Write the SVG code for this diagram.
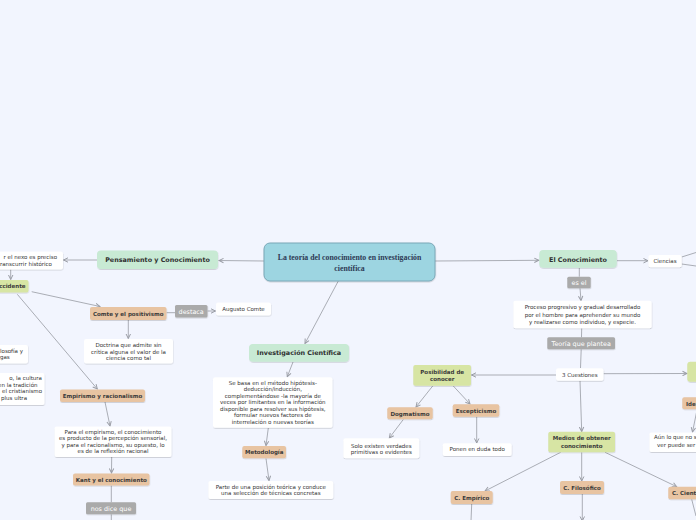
<svg xmlns="http://www.w3.org/2000/svg" width="696" height="520" viewBox="0 0 696 520">
<style>
.bg{fill:#f2f5fe}
.sh{filter:url(#shadow)}
.white{fill:#ffffff}
.green{fill:#c8ead4}
.lime{fill:#d7e5a4}
.tan{fill:#e8c4a2}
.gray{fill:#aaaaaa}
.central{fill:#9dd5e1;stroke:#7aa8b8;stroke-width:1}
text{font-family:"DejaVu Sans","Liberation Sans",sans-serif;fill:#333333}
.t{font-size:5.5px}
.tb{font-size:5.5px;font-weight:bold;fill:#3a3a3a}
.tm{font-size:6.4px;font-weight:bold;fill:#2f2f2f}
.tg{font-size:6.4px;fill:#ffffff}
.tc{font-family:"Liberation Serif","DejaVu Serif",serif;font-size:7.8px;font-weight:bold;fill:#2e3a55}
.c{text-anchor:middle}
.e{text-anchor:end}
.ln{fill:none;stroke:#a2a5ad;stroke-width:0.9}
.ar{marker-end:url(#arr)}
</style>
<defs>
<filter id="shadow" x="-20%" y="-30%" width="140%" height="170%">
<feDropShadow dx="0.3" dy="0.8" stdDeviation="0.5" flood-color="#000" flood-opacity="0.18"/>
</filter>
<marker id="arr" viewBox="0 0 6 6" markerWidth="6" markerHeight="6" refX="5" refY="3" orient="auto" markerUnits="userSpaceOnUse">
<path d="M0.5,0.8 L5,3 L0.5,5.2" fill="none" stroke="#9a9da5" stroke-width="1"/>
</marker>
</defs>
<rect class="bg" x="0" y="0" width="696" height="520"/>

<g id="connectors">
<path class="ln ar" d="M264,261 L219,260.5"/>
<path class="ln ar" d="M97,260 L63.5,260"/>
<path class="ln ar" d="M10.7,269.5 L10.7,279.5"/>
<path class="ln ar" d="M31.7,291.7 L100,306.5"/>
<path class="ln ar" d="M17.3,294.3 L97.3,389"/>
<path class="ln" d="M166.5,312.7 L175,312.7"/>
<path class="ln ar" d="M207.5,311 L215.5,311"/>
<path class="ln ar" d="M128.3,320 L128.3,338.5"/>
<path class="ln ar" d="M105,402 L110,426"/>
<path class="ln ar" d="M111.7,457 L111.5,473"/>
<path class="ln" d="M111.3,485.5 L111.3,502.3"/>
<path class="ln" d="M111.3,514.3 L111.3,521"/>
<path class="ln ar" d="M338.3,281 L305,343.5"/>
<path class="ln ar" d="M293,362 L287.3,376.7"/>
<path class="ln ar" d="M268.3,428 L266,445.5"/>
<path class="ln ar" d="M266,458.5 L269,480.5"/>
<path class="ln ar" d="M435,261 L538.8,260.3"/>
<path class="ln ar" d="M617,260.7 L648,260.7"/>
<path class="ln" d="M681.7,257 L696,252.5"/>
<path class="ln" d="M681.7,264 L696,266"/>
<path class="ln" d="M579.3,268 L579.3,276.7"/>
<path class="ln ar" d="M580,288.3 L581,300.5"/>
<path class="ln" d="M581.7,328.3 L581.5,337.3"/>
<path class="ln" d="M581.2,349.3 L580.5,368"/>
<path class="ln ar" d="M556,375 L471.5,375"/>
<path class="ln ar" d="M603.5,373.7 L687,373.5"/>
<path class="ln ar" d="M432.7,386 L416,407"/>
<path class="ln ar" d="M453.3,386 L470,404"/>
<path class="ln ar" d="M403.3,419.5 L389.3,438"/>
<path class="ln ar" d="M476.7,416.7 L476.7,443"/>
<path class="ln ar" d="M580,380.7 L581.7,431.5"/>
<path class="ln ar" d="M560.7,452.3 L485,491"/>
<path class="ln ar" d="M581.7,452.3 L581.7,481"/>
<path class="ln ar" d="M605,452.3 L676.7,486.7"/>
<path class="ln" d="M471.7,504 L471,521"/>
<path class="ln ar" d="M582.3,494 L582.3,521"/>
<path class="ln" d="M691.7,499.3 L696,516"/>
<path class="ln ar" d="M697,410 L692.5,432"/>
</g>

<g id="n-central">
<rect class="central sh" x="264" y="243" width="171" height="38" rx="6"/>
<text class="tc c" x="349.5" y="259.5">La teoría del conocimiento en investigación</text>
<text class="tc c" x="349.5" y="271">científica</text>
</g>

<g id="n-pensamiento">
<rect class="green sh" x="97" y="250.5" width="121" height="18.5" rx="4"/>
<text class="tm c" x="157.5" y="262">Pensamiento y Conocimiento</text>
</g>

<g id="n-nexo">
<rect class="white sh" x="-5" y="251.5" width="68" height="18" rx="2"/>
<text class="t e" x="57" y="259.3">r el nexo  es preciso</text>
<text class="t e" x="52" y="266.3">transcurrir histórico</text>
</g>

<g id="n-occidente">
<rect class="lime sh" x="-10" y="280" width="38.5" height="12.5" rx="2"/>
<text class="tb e" x="25.5" y="288.3">Occidente</text>
</g>

<g id="n-comte">
<rect class="tan sh" x="90" y="307" width="76.5" height="13" rx="2"/>
<text class="tb c" x="128.3" y="315.5">Comte y el positivismo</text>
</g>

<g id="n-destaca">
<rect class="gray sh" x="175" y="305" width="32.5" height="12.5" rx="1.5"/>
<text class="tg c" x="191.2" y="313.5">destaca</text>
</g>

<g id="n-augusto">
<rect class="white sh" x="216" y="302.5" width="55" height="13" rx="2"/>
<text class="t c" x="243.5" y="311.3">Augusto Comte</text>
</g>

<g id="n-doctrina">
<rect class="white sh" x="84" y="339" width="89" height="24.5" rx="2"/>
<text class="t c" x="128.5" y="347">Doctrina que admite sin</text>
<text class="t c" x="128.5" y="353.7">crítica alguna el valor de la</text>
<text class="t c" x="128.5" y="360.3">ciencia como tal</text>
</g>

<g id="n-filosofia">
<rect class="white sh" x="-5" y="345" width="33" height="18.5" rx="2"/>
<text class="t" x="0" y="353">losofía y</text>
<text class="t" x="0" y="359.3">gas</text>
</g>

<g id="n-cultura">
<rect class="white sh" x="-5" y="373" width="49.5" height="32" rx="2"/>
<text class="t e" x="42" y="380">o, la cultura</text>
<text class="t e" x="37.5" y="386.7">en la tradición</text>
<text class="t e" x="42" y="393.3">el cristianismo</text>
<text class="t e" x="27" y="400">plus ultra</text>
</g>

<g id="n-empirismo">
<rect class="tan sh" x="60" y="389.5" width="85" height="12.5" rx="2"/>
<text class="tb c" x="102.5" y="397.8">Empirismo y racionalismo</text>
</g>

<g id="n-para">
<rect class="white sh" x="54.5" y="426.5" width="117" height="30.5" rx="2"/>
<text class="t c" x="113" y="434.3">Para el empirismo, el conocimiento</text>
<text class="t c" x="113" y="440.4">es producto de la percepción sensorial,</text>
<text class="t c" x="113" y="446.5">y para el racionalismo, su opuesto, lo</text>
<text class="t c" x="113" y="452.6">es de la reflexión racional</text>
</g>

<g id="n-kant">
<rect class="tan sh" x="73" y="473.5" width="76.5" height="12" rx="2"/>
<text class="tb c" x="111.3" y="481.6">Kant y el conocimiento</text>
</g>

<g id="n-nosdice">
<rect class="gray sh" x="86" y="502.3" width="50" height="12" rx="1.5"/>
<text class="tg c" x="111" y="510.5">nos dice que</text>
</g>

<g id="n-investigacion">
<rect class="green sh" x="249" y="344" width="100" height="17.7" rx="4"/>
<text class="tm c" x="299" y="355">Investigación Científica</text>
</g>

<g id="n-sebasa">
<rect class="white sh" x="213" y="377.3" width="119.5" height="50.5" rx="2"/>
<text class="t c" x="272.8" y="384.7">Se basa en el método hipótesis-</text>
<text class="t c" x="272.8" y="391.2">deducción/inducción,</text>
<text class="t c" x="272.8" y="397.8">complementándose -la mayoría de</text>
<text class="t c" x="272.8" y="404.3">veces por limitantes en la información</text>
<text class="t c" x="272.8" y="410.9">disponible para resolver sus hipótesis,</text>
<text class="t c" x="272.8" y="417.4">formular nuevos factores de</text>
<text class="t c" x="272.8" y="424">interrelación o nuevas teorías</text>
</g>

<g id="n-metodologia">
<rect class="tan sh" x="242.3" y="446" width="43.7" height="12.3" rx="2"/>
<text class="tb c" x="264.2" y="454.3">Metodología</text>
</g>

<g id="n-parte">
<rect class="white sh" x="208.3" y="481" width="125" height="18" rx="2"/>
<text class="t c" x="270.8" y="488.7">Parte de una posición teórica y conduce</text>
<text class="t c" x="270.8" y="495.3">una selección de técnicas concretas</text>
</g>

<g id="n-elconocimiento">
<rect class="green sh" x="539.3" y="250" width="77.5" height="17.7" rx="4"/>
<text class="tm c" x="578" y="261.5">El Conocimiento</text>
</g>

<g id="n-ciencias">
<rect class="white sh" x="648.3" y="255" width="33.4" height="12.3" rx="2"/>
<text class="t c" x="665" y="263">Ciencias</text>
</g>

<g id="n-esel">
<rect class="gray sh" x="567.3" y="276.7" width="23.4" height="11.6" rx="1.5"/>
<text class="tg c" x="579" y="284.9">es el</text>
</g>

<g id="n-proceso">
<rect class="white sh" x="513.3" y="300.7" width="138.4" height="27.6" rx="2"/>
<text class="t c" x="582.5" y="309.3">Proceso progresivo y gradual desarrollado</text>
<text class="t c" x="582.5" y="316.7">por el hombre para aprehender su mundo</text>
<text class="t c" x="582.5" y="324">y realizarse como individuo, y especie.</text>
</g>

<g id="n-teoria">
<rect class="gray sh" x="547.3" y="337.3" width="67.7" height="12" rx="1.5"/>
<text class="tg c" x="581.2" y="345.7">Teoría que plantea</text>
</g>

<g id="n-3cuestiones">
<rect class="white sh" x="556" y="368.3" width="47.5" height="12.4" rx="2"/>
<text class="t c" x="579.8" y="376.6">3 Cuestiones</text>
</g>

<g id="n-right">
<rect class="lime sh" x="687.3" y="361.7" width="20" height="20" rx="3"/>
</g>

<g id="n-posibilidad">
<rect class="lime sh" x="413.3" y="365" width="57.7" height="20.7" rx="2"/>
<text class="tb c" x="442.2" y="373.7">Posibilidad de</text>
<text class="tb c" x="442.2" y="381.3">conocer</text>
</g>

<g id="n-dogmatismo">
<rect class="tan sh" x="387.3" y="407.3" width="45.4" height="12" rx="2"/>
<text class="tb c" x="410" y="415.6">Dogmatismo</text>
</g>

<g id="n-escepticismo">
<rect class="tan sh" x="452.7" y="404.3" width="46.6" height="12.4" rx="2"/>
<text class="tb c" x="476" y="412.6">Escepticismo</text>
</g>

<g id="n-solo">
<rect class="white sh" x="343.3" y="438.3" width="76" height="20" rx="2"/>
<text class="t c" x="381.3" y="447.7">Solo existen verdades</text>
<text class="t c" x="381.3" y="454.3">primitivas o evidentes</text>
</g>

<g id="n-ponen">
<rect class="white sh" x="442.7" y="443.3" width="69" height="12.7" rx="2"/>
<text class="t c" x="477.2" y="451.3">Ponen en duda todo</text>
</g>

<g id="n-medios">
<rect class="lime sh" x="548.3" y="431.7" width="66.7" height="20.6" rx="2"/>
<text class="tb c" x="581.7" y="440.3">Medios de obtener</text>
<text class="tb c" x="581.7" y="448">conocimiento</text>
</g>

<g id="n-empirico">
<rect class="tan sh" x="450.7" y="491" width="42" height="13" rx="2"/>
<text class="tb c" x="471.7" y="499.7">C. Empírico</text>
</g>

<g id="n-filosofico">
<rect class="tan sh" x="560" y="481" width="44" height="13" rx="2"/>
<text class="tb c" x="582" y="489.6">C. Filosófico</text>
</g>

<g id="n-cientifico">
<rect class="tan sh" x="668.3" y="486.7" width="40" height="12.6" rx="2"/>
<text class="tb" x="672" y="495">C. Científico</text>
</g>

<g id="n-ide">
<rect class="tan sh" x="682.3" y="397.3" width="20" height="12" rx="2"/>
<text class="tb" x="686" y="405.6">Ide</text>
</g>

<g id="n-aun">
<rect class="white sh" x="649.3" y="432.5" width="50" height="19.5" rx="2"/>
<text class="t" x="654" y="439.3">Aún lo que no s</text>
<text class="t c" x="676.2" y="447">ver puede ser</text>
</g>
</svg>
